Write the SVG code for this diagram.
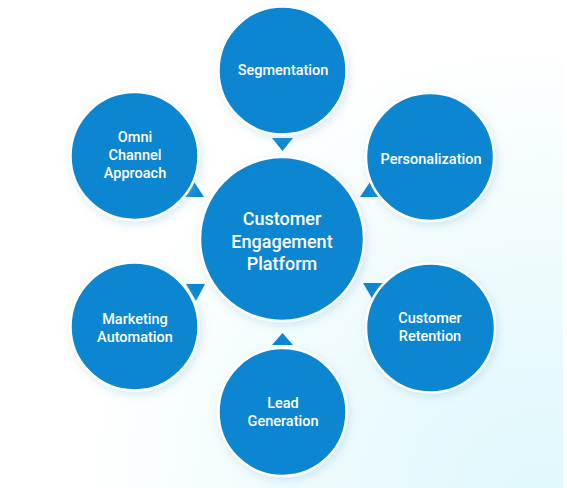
<svg xmlns="http://www.w3.org/2000/svg" width="567" height="488" viewBox="0 0 567 488">
<defs>
<radialGradient id="bg" cx="540" cy="500" r="460" gradientUnits="userSpaceOnUse">
<stop offset="0" stop-color="#e0f8fb"/>
<stop offset="0.5" stop-color="#eefbfd"/>
<stop offset="1" stop-color="#ffffff"/>
</radialGradient>
<filter id="sh" x="-30%" y="-30%" width="160%" height="160%">
<feDropShadow dx="2" dy="3" stdDeviation="4" flood-color="#7fb8d8" flood-opacity="0.3"/>
</filter>
<style>
.c{fill:#0b86d2;stroke:#ffffff;stroke-width:2.5;filter:url(#sh)}
.t{fill:#0b86d2}
.l{font-family:Roboto,"Liberation Sans",sans-serif;font-weight:500;fill:#ffffff;text-anchor:middle;font-size:14.5px}
.lc{font-size:18px}
</style>
</defs>
<rect width="567" height="488" fill="url(#bg)"/>
<rect x="563" y="0" width="4" height="488" fill="#ffffff"/>
<g id="connectors">
<polygon class="t" points="272,138 293,138 282.5,151"/>
<polygon class="t" points="360,197 380,197 370,182"/>
<polygon class="t" points="183,197 204,197 193.5,181"/>
<polygon class="t" points="363,283 383,283 373,300"/>
<polygon class="t" points="186,284 205,284 196,301"/>
<polygon class="t" points="272,345 293,345 282.5,333"/>
</g>
<g id="center">
<circle class="c" cx="282" cy="239" r="82"/>
<text class="l lc" x="282" y="225">Customer</text>
<text class="l lc" x="282" y="248">Engagement</text>
<text class="l lc" x="282" y="270">Platform</text>
</g>
<g id="segmentation">
<circle class="c" cx="282.5" cy="70.5" r="64"/>
<text class="l" x="283" y="75">Segmentation</text>
</g>
<g id="personalization">
<circle class="c" cx="430" cy="157" r="64"/>
<text class="l" x="431" y="164">Personalization</text>
</g>
<g id="customer-retention">
<circle class="c" cx="430.5" cy="328" r="64.5"/>
<text class="l" x="430" y="323">Customer</text>
<text class="l" x="430" y="341">Retention</text>
</g>
<g id="lead-generation">
<circle class="c" cx="282.5" cy="412" r="64"/>
<text class="l" x="283" y="408">Lead</text>
<text class="l" x="283" y="426">Generation</text>
</g>
<g id="marketing-automation">
<circle class="c" cx="134.5" cy="326.5" r="64"/>
<text class="l" x="135" y="324">Marketing</text>
<text class="l" x="135" y="342">Automation</text>
</g>
<g id="omni-channel">
<circle class="c" cx="134.5" cy="156" r="64"/>
<text class="l" x="135" y="142">Omni</text>
<text class="l" x="135" y="160">Channel</text>
<text class="l" x="135" y="178">Approach</text>
</g>
</svg>
